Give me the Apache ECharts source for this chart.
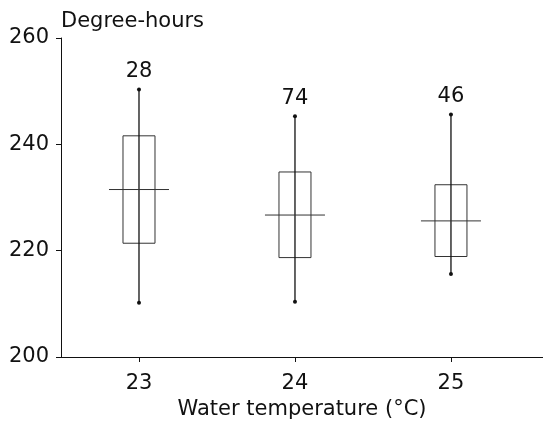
<!DOCTYPE html>
<html>
<head>
<meta charset="utf-8">
<script src="https://cdn.jsdelivr.net/npm/echarts@6/dist/echarts.min.js"></script>
<style>
  html, body { margin: 0; padding: 0; background: #fff; }
  #chart { width: 543px; height: 429px; }
</style>
</head>
<body>
<div id="chart"></div>
<script>
// water temperature groups
var temps = [23, 24, 25];
// degree-hours summary per group
var minVals = [210.2, 210.4, 215.6];
var q1Vals = [221.4, 218.7, 218.9];
var meanVals = [231.5, 226.7, 225.6];
var q3Vals = [241.6, 234.8, 232.4];
var maxVals = [250.3, 245.3, 245.6];
// sample sizes shown above each box
var counts = [28, 74, 46];
var yTicks = [200, 220, 240, 260];

var FONT = 'DejaVu Sans';
var INK = '#111';

var rows = temps.map(function (t, i) {
    return [t, minVals[i], q1Vals[i], meanVals[i], q3Vals[i], maxVals[i], counts[i]];
});

function renderBox(params, api) {
    var x = api.value(0);
    var pMin = api.coord([x, api.value(1)]);
    var pQ1 = api.coord([x, api.value(2)]);
    var pMean = api.coord([x, api.value(3)]);
    var pQ3 = api.coord([x, api.value(4)]);
    var pMax = api.coord([x, api.value(5)]);
    var cx = pMin[0];
    var boxHalf = 16;
    var meanHalf = 30;
    return {
        type: 'group',
        children: [
            {
                type: 'rect',
                shape: { x: cx - boxHalf, y: pQ3[1], width: boxHalf * 2, height: pQ1[1] - pQ3[1] },
                style: { fill: 'none', stroke: '#333', lineWidth: 1 }
            },
            {
                type: 'line',
                shape: { x1: cx, y1: pMin[1], x2: cx, y2: pMax[1] },
                style: { stroke: INK, lineWidth: 1.3 }
            },
            {
                type: 'line',
                shape: { x1: cx - meanHalf, y1: pMean[1], x2: cx + meanHalf, y2: pMean[1] },
                style: { stroke: '#333', lineWidth: 1 }
            },
            {
                type: 'circle',
                shape: { cx: cx, cy: pMin[1], r: 2 },
                style: { fill: INK }
            },
            {
                type: 'circle',
                shape: { cx: cx, cy: pMax[1], r: 2 },
                style: { fill: INK }
            },
            {
                type: 'text',
                style: {
                    x: cx, y: pMax[1] - 18,
                    text: String(api.value(6)),
                    fill: INK,
                    font: '21px "' + FONT + '"',
                    align: 'center',
                    verticalAlign: 'middle'
                }
            }
        ]
    };
}

var chart = echarts.init(document.getElementById('chart'));
chart.setOption({
    backgroundColor: '#fff',
    animation: false,
    textStyle: { fontFamily: FONT, color: INK },
    grid: { left: 61, right: 0, top: 38, bottom: 72, outerBoundsMode: 'none' },
    xAxis: {
        type: 'value',
        min: 22.5,
        max: 25.59,
        name: 'Water temperature (°C)',
        nameLocation: 'middle',
        nameGap: 42,
        nameTextStyle: { fontSize: 21, color: INK, fontFamily: FONT },
        splitLine: { show: false },
        axisLine: { lineStyle: { color: INK, width: 1.2 } },
        axisTick: { customValues: temps, length: 5, lineStyle: { color: INK } },
        axisLabel: { customValues: temps, margin: 16, fontSize: 21, color: INK, fontFamily: FONT }
    },
    yAxis: {
        type: 'value',
        min: 200,
        max: 260,
        interval: 20,
        name: 'Degree-hours',
        nameLocation: 'end',
        nameGap: 6,
        nameTextStyle: { fontSize: 21, color: INK, fontFamily: FONT, align: 'left' },
        splitLine: { show: false },
        axisLine: { show: true, lineStyle: { color: INK, width: 1 } },
        axisTick: { show: true, length: 5, lineStyle: { color: INK } },
        axisLabel: {
            margin: 12, fontSize: 21, color: INK, fontFamily: FONT,
            formatter: function (v) { return yTicks.indexOf(v) >= 0 ? String(v) : ''; }
        }
    },
    series: [{
        type: 'custom',
        renderItem: renderBox,
        encode: { x: 0, y: [1, 5] },
        data: rows
    }]
});
</script>
</body>
</html>
